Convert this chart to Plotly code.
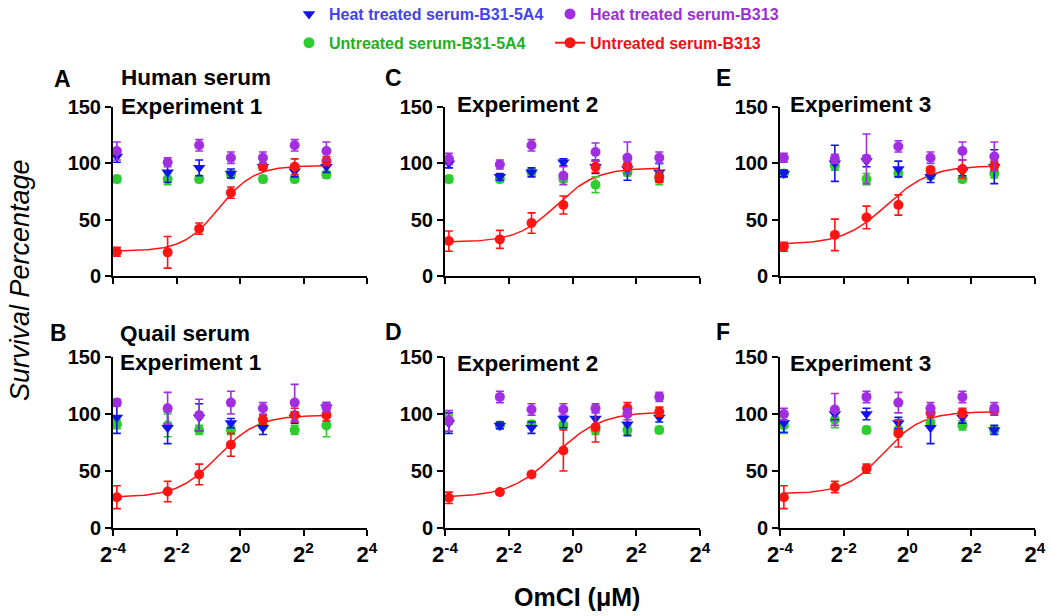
import numpy as np
import plotly.graph_objects as go

W, H = 1050, 616

# ---------------- data ----------------
conc = [0.068, 0.206, 0.41, 0.82, 1.65, 3.3, 6.6]  # OmCI (uM)

panel_ids = ["A", "C", "E", "B", "D", "F"]
panel_titles = {
    "A": "Human serum<br>Experiment 1",
    "C": "Experiment 2",
    "E": "Experiment 3",
    "B": "Quail serum<br>Experiment 1",
    "D": "Experiment 2",
    "F": "Experiment 3",
}

untreated_b313 = {
    "A": [21.5, 21, 42, 74, 97, 97, 102],
    "C": [31, 32.5, 47, 63, 97, 98, 88],
    "E": [26, 36.5, 52, 63, 94, 95, 98],
    "B": [27, 32, 47, 73, 95, 99, 99],
    "D": [26.5, 31.5, 47, 68, 88.5, 105, 102],
    "F": [27, 36, 52, 83, 101, 101, 103],
}
untreated_b313_err = {
    "A": [4, 14, 5, 5, 3, 7, 4],
    "C": [9, 8, 9, 8, 5, 4, 5],
    "E": [4, 14, 10, 9, 3, 8, 4],
    "B": [10, 9, 9, 10, 4, 6, 5],
    "D": [5, 2, 2, 18, 13, 5, 4],
    "F": [10, 5, 4, 12, 4, 4, 4],
}
heat_b313 = {
    "A": [111, 101, 116, 105, 105, 116, 111],
    "C": [104, 99, 116, 89, 110, 105, 105],
    "E": [105, 104, 104, 115, 105, 111, 106],
    "B": [110, 105, 99, 110, 105, 110, 106],
    "D": [94, 115, 104, 104, 105, 100, 115],
    "F": [100, 104, 115, 110, 105, 115, 105],
}
heat_b313_err = {
    "A": [8, 4, 5, 5, 5, 5, 8],
    "C": [5, 4, 5, 8, 8, 14, 5],
    "E": [4, 4, 22, 5, 5, 8, 13],
    "B": [3, 14, 14, 10, 5, 16, 4],
    "D": [9, 5, 5, 5, 4, 5, 4],
    "F": [5, 14, 5, 9, 5, 5, 5],
}
heat_b31 = {
    "A": [106, 92, 96, 91, 97, 93, 97],
    "C": [100, 88, 92, 101, 97, 95, 92],
    "E": [91, 100, 102, 95, 88, 93, 97],
    "B": [97, 88, 97, 92, 88, 97, 106],
    "D": [92, 90, 88, 96, 96, 91, 97],
    "F": [92, 100, 100, 92, 88, 97, 86],
}
heat_b31_err = {
    "A": [5, 9, 7, 4, 3, 5, 5],
    "C": [4, 3, 4, 3, 6, 10, 8],
    "E": [3, 16, 5, 7, 5, 4, 15],
    "B": [14, 14, 12, 4, 6, 5, 4],
    "D": [9, 3, 5, 8, 8, 10, 4],
    "F": [8, 5, 5, 5, 14, 5, 4],
}
untreated_b31 = {
    "A": [86, 86, 86, 90, 86, 86, 90],
    "C": [86, 86, 92, 86, 81, 92, 86],
    "E": [91, 98, 86, 91, 89, 86, 91],
    "B": [91, 90, 86, 86, 90, 86, 90],
    "D": [95, 90, 91, 90, 86, 86, 86],
    "F": [90, 95, 86, 86, 92, 90, 86],
}
untreated_b31_err = {
    "A": [3, 5, 3, 3, 3, 3, 3],
    "C": [3, 3, 3, 3, 7, 3, 5],
    "E": [3, 4, 5, 3, 3, 3, 4],
    "B": [4, 10, 4, 4, 3, 4, 10],
    "D": [4, 3, 3, 3, 4, 4, 3],
    "F": [7, 7, 3, 3, 3, 4, 3],
}

# sigmoidal fit parameters (bottom, top, log2 EC50, Hill slope)
fit_bottom = {"A": 22, "C": 30, "E": 28, "B": 27, "D": 27, "F": 30}
fit_top = {"A": 98, "C": 96, "E": 98, "B": 99, "D": 102, "F": 102}
fit_log2ec50 = {"A": -0.67, "C": -0.5, "E": -0.65, "B": -0.7, "D": -0.55, "F": -0.75}
fit_hill = {"A": 2.6, "C": 2.3, "E": 2.1, "B": 2.3, "D": 2.0, "F": 2.4}

x_tickvals = [2 ** -4, 2 ** -2, 2 ** 0, 2 ** 2, 2 ** 4]
x_ticktext = ["2<sup>-4</sup>", "2<sup>-2</sup>", "2<sup>0</sup>", "2<sup>2</sup>", "2<sup>4</sup>"]
y_tickvals = [0, 50, 100, 150]

series_names = [
    "Heat treated serum-B31-5A4",
    "Heat treated serum-B313",
    "Untreated serum-B31-5A4",
    "Untreated serum-B313",
]

# ---------------- style ----------------
FONT = "Liberation Sans, Arial, sans-serif"
C_BLUE = "#1414e6"
C_PURPLE = "#a12ee0"
C_GREEN = "#2ecc2e"
C_RED = "#ff1414"
T_BLUE = "#4343e8"
T_PURPLE = "#9a2fd8"
T_GREEN = "#22b022"
T_RED = "#f01010"

# pixel boxes of plotting areas: (x0, x1, ytop, ybottom)
col_x = [(113, 367), (445, 700), (780, 1035)]
row_y = [(107, 276), (357, 528)]

fig = go.Figure()

layout_axes = {}
for i, pid in enumerate(panel_ids):
    r, c = divmod(i, 3)
    n = i + 1
    xa = "x" if n == 1 else f"x{n}"
    ya = "y" if n == 1 else f"y{n}"
    x0, x1 = col_x[c]
    yt, yb = row_y[r]
    layout_axes[f"xaxis{'' if n == 1 else n}"] = dict(
        domain=[x0 / W, x1 / W],
        anchor=ya,
        type="log",
        range=[np.log10(2 ** -4), np.log10(2 ** 4)],
        tickvals=x_tickvals,
        ticktext=x_ticktext,
        showticklabels=(r == 1),
        ticks="outside",
        ticklen=6,
        tickwidth=2,
        tickcolor="black",
        showline=True,
        linecolor="black",
        linewidth=2,
        showgrid=False,
        zeroline=False,
        tickfont=dict(family=FONT, size=22, color="black", weight="bold"),
    )
    layout_axes[f"yaxis{'' if n == 1 else n}"] = dict(
        domain=[1 - yb / H, 1 - yt / H],
        anchor=xa,
        range=[0, 150],
        tickvals=y_tickvals,
        ticks="outside",
        ticklen=6,
        tickwidth=2,
        tickcolor="black",
        showline=True,
        linecolor="black",
        linewidth=2,
        showgrid=False,
        zeroline=False,
        tickfont=dict(family=FONT, size=20, color="black", weight="bold"),
    )

    # fitted curve
    lx = np.linspace(np.log10(conc[0]), np.log10(conc[-1]), 150)
    xc = 10 ** lx
    b, t = fit_bottom[pid], fit_top[pid]
    lec = fit_log2ec50[pid] * np.log10(2)
    yc = b + (t - b) / (1 + 10 ** ((lec - lx) * fit_hill[pid]))
    fig.add_trace(go.Scatter(x=xc, y=yc, mode="lines", line=dict(color=C_RED, width=1.5),
                             xaxis=xa, yaxis=ya, showlegend=False, hoverinfo="skip"))

    def pts(vals, errs, color, symbol, size):
        fig.add_trace(go.Scatter(
            x=conc, y=vals, mode="markers", xaxis=xa, yaxis=ya, showlegend=False,
            marker=dict(color=color, symbol=symbol, size=size, line=dict(width=0)),
            error_y=dict(type="data", array=errs, color=color, thickness=1.6, width=4),
        ))

    pts(untreated_b31[pid], untreated_b31_err[pid], C_GREEN, "circle", 10)
    pts(heat_b31[pid], heat_b31_err[pid], C_BLUE, "triangle-down", 11)
    pts(untreated_b313[pid], untreated_b313_err[pid], C_RED, "circle", 10)
    pts(heat_b313[pid], heat_b313_err[pid], C_PURPLE, "circle", 10)

fig.update_layout(**layout_axes)

# legend entries (empty traces so only the legend keys show)
leg = [
    (series_names[0], C_BLUE, T_BLUE, "triangle-down", "markers", "legend"),
    (series_names[2], C_GREEN, T_GREEN, "circle", "markers", "legend"),
    (series_names[1], C_PURPLE, T_PURPLE, "circle", "markers", "legend2"),
    (series_names[3], C_RED, T_RED, "circle", "lines+markers", "legend2"),
]
for k, (name, mc, tc, sym, mode, lg) in enumerate(leg):
    fig.add_trace(go.Scatter(
        x=[None], y=[None], mode=mode, name=f"<span style='color:{tc}'>{name}</span>",
        marker=dict(color=mc, symbol=sym, size=11),
        line=dict(color=mc, width=2), showlegend=True, legend=lg, legendgroup=f"g{k}",
    ))

annotations = []
# panel letters and titles
letter_pos = {"A": (62, 79), "C": (393, 78), "E": (723, 78), "B": (58, 333), "D": (393, 332), "F": (723, 332)}
title_pos = {"A": (119, 92), "C": (455, 105), "E": (788, 105), "B": (118, 348), "D": (455, 363), "F": (788, 363)}
for pid in panel_ids:
    lx_, ly_ = letter_pos[pid]
    annotations.append(dict(text=pid, x=lx_ / W, y=1 - ly_ / H, xref="paper", yref="paper",
                            xanchor="center", yanchor="middle", showarrow=False,
                            font=dict(family=FONT, size=23, color="black", weight="bold")))
    tx, ty = title_pos[pid]
    annotations.append(dict(text=panel_titles[pid], x=tx / W, y=1 - ty / H, xref="paper", yref="paper",
                            xanchor="left", yanchor="middle", align="left", showarrow=False,
                            font=dict(family=FONT, size=22.5, color="black", weight="bold")))

annotations.append(dict(text="<i>Survival Percentage</i>", x=20 / W, y=1 - 280 / H, xref="paper", yref="paper",
                        textangle=-90, xanchor="center", yanchor="middle", showarrow=False,
                        font=dict(family=FONT, size=27, color="black")))
annotations.append(dict(text="OmCI (μM)", x=577 / W, y=1 - 597 / H, xref="paper", yref="paper",
                        xanchor="center", yanchor="middle", showarrow=False,
                        font=dict(family=FONT, size=25, color="black", weight="bold")))

legend_common = dict(orientation="v", xanchor="left", yanchor="top", tracegroupgap=5,
                     font=dict(family=FONT, size=16, weight="bold"), bgcolor="rgba(0,0,0,0)",
                     itemwidth=30)
fig.update_layout(
    width=W, height=H,
    margin=dict(l=0, r=0, t=0, b=0, autoexpand=False),
    paper_bgcolor="white", plot_bgcolor="white",
    annotations=annotations,
    legend=dict(x=289 / W, y=1 + 3 / H, **legend_common),
    legend2=dict(x=550 / W, y=1 + 3 / H, **legend_common),
)

fig.write_html("out.html", config={"displayModeBar": False},
               post_script="document.body.style.margin='0px';")
